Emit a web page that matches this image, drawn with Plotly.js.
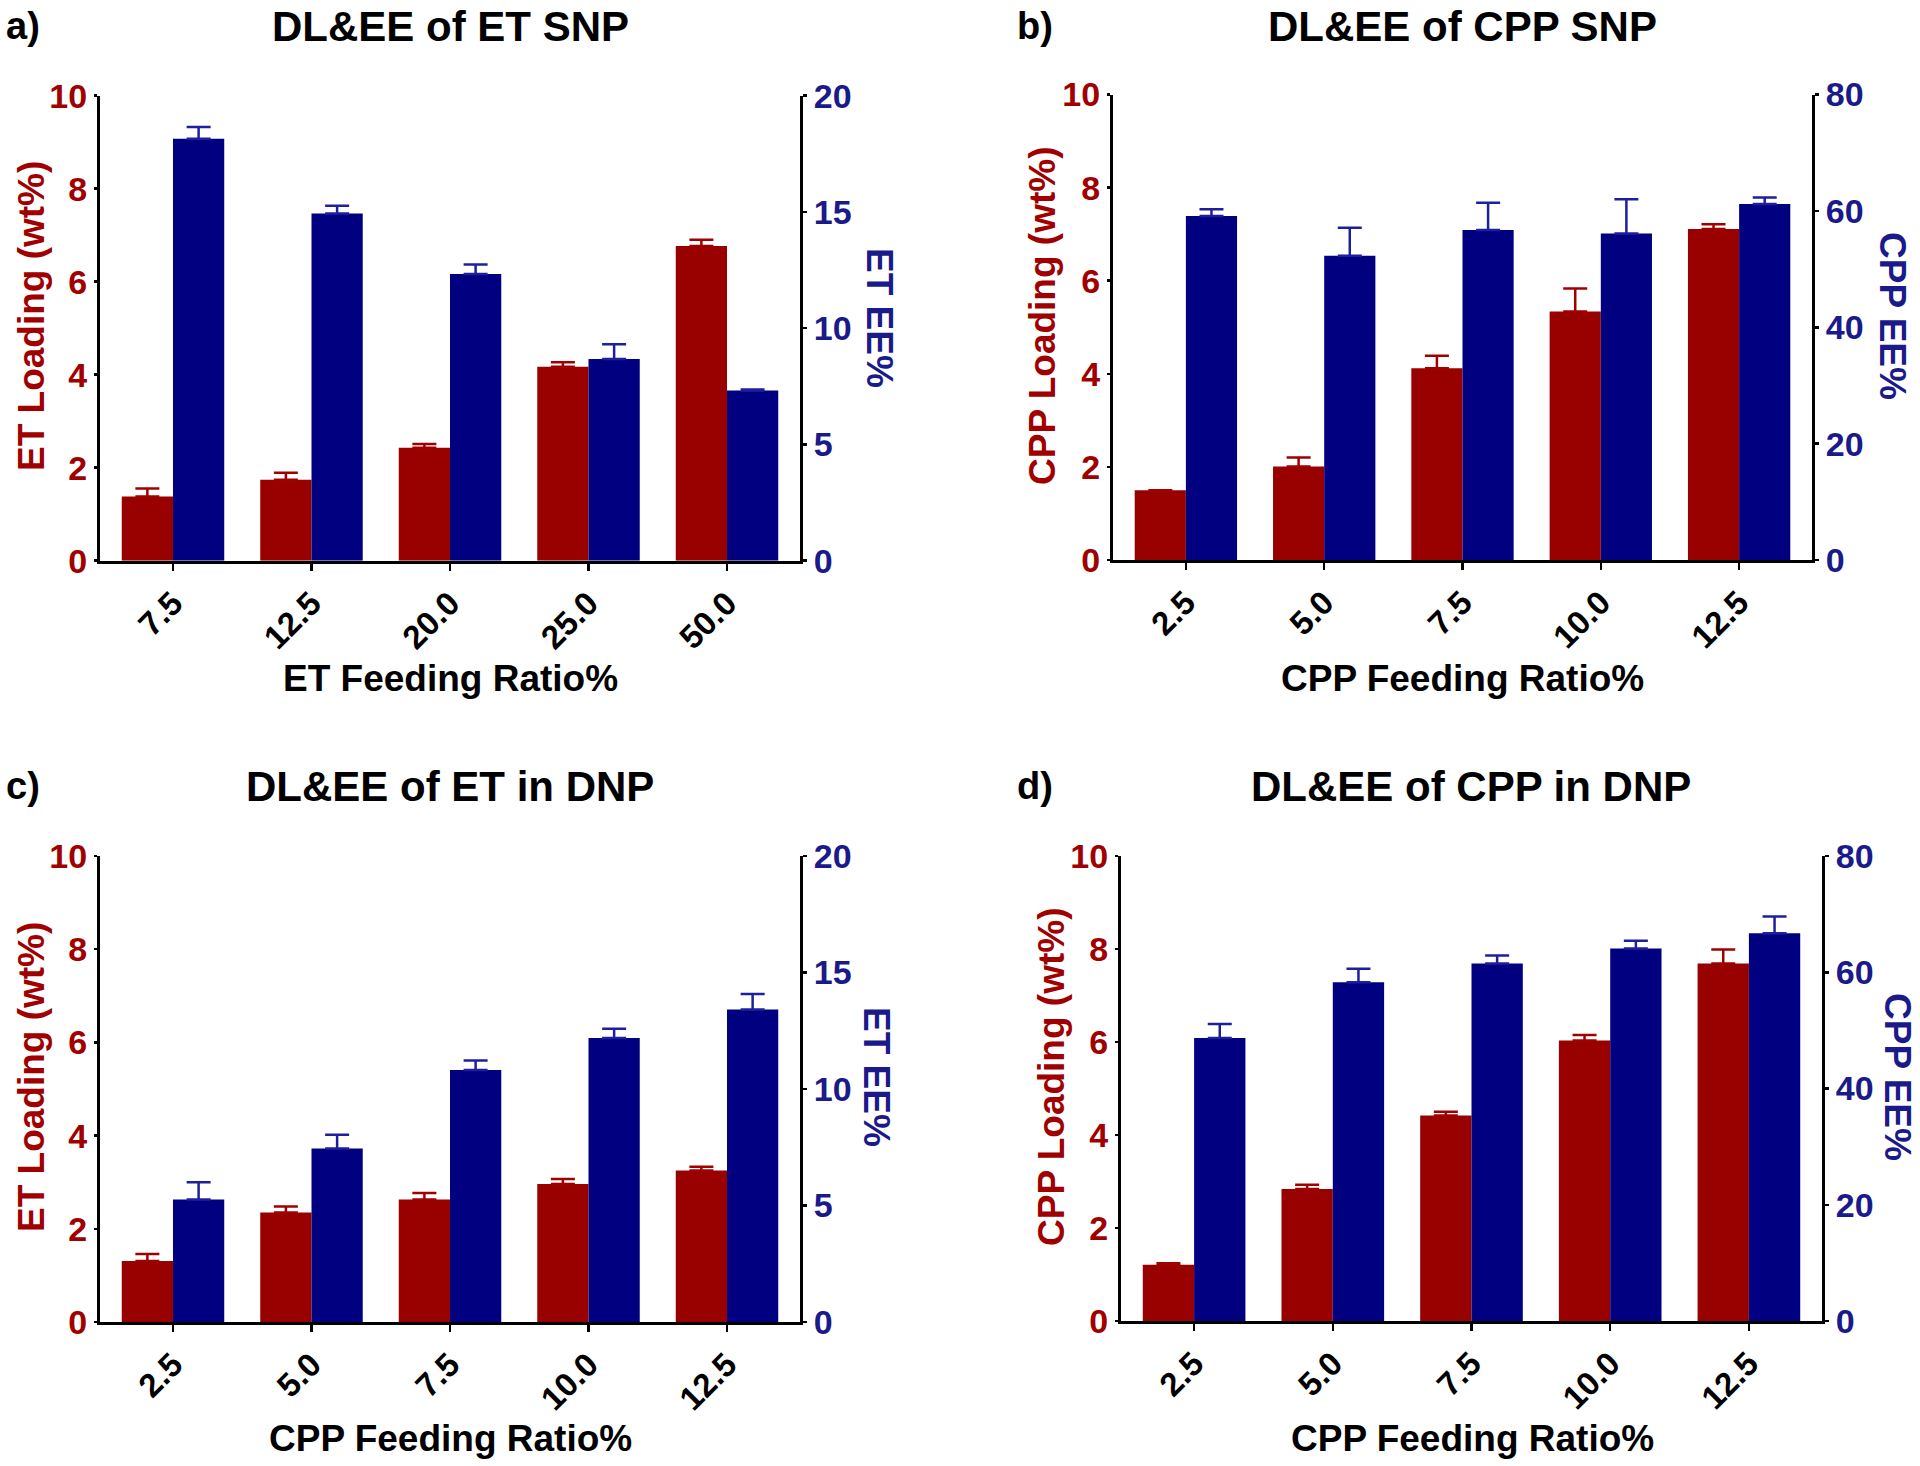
<!DOCTYPE html>
<html><head><meta charset="utf-8">
<script src="https://cdn.plot.ly/plotly-3.0.1.min.js"></script>
<style>html,body{margin:0;padding:0;background:#fff}</style>
</head><body>
<div id="chart" style="width:1920px;height:1466px"></div>
<script>
// ---------- data ----------
const catsA = ['7.5', '12.5', '20.0', '25.0', '50.0'];
const catsB = ['2.5', '5.0', '7.5', '10.0', '12.5'];
const catsC = ['2.5', '5.0', '7.5', '10.0', '12.5'];
const catsD = ['2.5', '5.0', '7.5', '10.0', '12.5'];

// a) DL&EE of ET SNP
const aLoading    = [1.38, 1.74, 2.43, 4.17, 6.77];
const aLoadingErr = [0.17, 0.15, 0.08, 0.10, 0.13];
const aEE         = [18.15, 14.93, 12.33, 8.68, 7.32];
const aEEErr      = [0.50, 0.34, 0.41, 0.63, 0.04];

// b) DL&EE of CPP SNP
const bLoading    = [1.50, 2.01, 4.12, 5.34, 7.11];
const bLoadingErr = [0.00, 0.19, 0.27, 0.49, 0.10];
const bEE         = [59.1, 52.3, 56.7, 56.1, 61.2];
const bEEErr      = [1.2, 4.8, 4.7, 5.9, 1.1];

// c) DL&EE of ET in DNP
const cLoading    = [1.31, 2.35, 2.63, 2.96, 3.25];
const cLoadingErr = [0.15, 0.13, 0.14, 0.11, 0.08];
const cEE         = [5.26, 7.45, 10.82, 12.19, 13.41];
const cEEErr      = [0.74, 0.59, 0.40, 0.40, 0.67];

// d) DL&EE of CPP in DNP
const dLoading    = [1.21, 2.84, 4.42, 6.03, 7.69];
const dLoadingErr = [0.03, 0.09, 0.08, 0.12, 0.30];
const dEE         = [48.7, 58.3, 61.5, 64.1, 66.7];
const dEEErr      = [2.4, 2.3, 1.4, 1.3, 2.9];

const panelTitles = ['DL&EE of ET SNP', 'DL&EE of CPP SNP', 'DL&EE of ET in DNP', 'DL&EE of CPP in DNP'];
const panelLetters = ['a)', 'b)', 'c)', 'd)'];
const xTitles = ['ET Feeding Ratio%', 'CPP Feeding Ratio%', 'CPP Feeding Ratio%', 'CPP Feeding Ratio%'];
const leftTitles = ['ET Loading (wt%)', 'CPP Loading (wt%)', 'ET Loading (wt%)', 'CPP Loading (wt%)'];
const rightTitles = ['ET EE%', 'CPP EE%', 'ET EE%', 'CPP EE%'];
const rightMax = [20, 80, 20, 80];

// ---------- styling / geometry ----------
const W = 1920, H = 1466;
const FONT = 'Liberation Sans, Arial, sans-serif';
const RED = '#990000', RED_T = '#A00000';
const BLUE = '#000080', BLUE_T = '#1a1a8a';

const geo = [
  {L: 100,  R: 800,  T: 95.7, B: 560.7, title: [450, 26],   letter: [23, 26],   xt: [450, 678],   lt: [31, 316],   rt: [880, 318]},
  {L: 1113, R: 1812, T: 94.5, B: 560,   title: [1462, 26],  letter: [1035, 26], xt: [1462, 678],  lt: [1042, 316], rt: [1893, 316]},
  {L: 100,  R: 800,  T: 856,  B: 1322,  title: [450, 786],  letter: [23, 786],  xt: [450, 1438],  lt: [31, 1077],  rt: [877, 1077]},
  {L: 1121, R: 1822, T: 856,  B: 1321,  title: [1471, 786], letter: [1035, 786],xt: [1472, 1438], lt: [1051, 1077], rt: [1898, 1077]}
];

const panels = [
  {cats: catsA, l: aLoading, le: aLoadingErr, r: aEE, re: aEEErr},
  {cats: catsB, l: bLoading, le: bLoadingErr, r: bEE, re: bEEErr},
  {cats: catsC, l: cLoading, le: cLoadingErr, r: cEE, re: cEEErr},
  {cats: catsD, l: dLoading, le: dLoadingErr, r: dEE, re: dEEErr}
];

const px = v => v / W;
const py = v => 1 - v / H;

const traces = [];
const layout = {
  width: W, height: H,
  margin: {l: 0, r: 0, t: 0, b: 0},
  paper_bgcolor: '#fff', plot_bgcolor: 'rgba(0,0,0,0)',
  showlegend: false,
  barmode: 'overlay',
  font: {family: FONT, weight: 700, color: '#000'},
  annotations: []
};

function ann(text, xy, size, color, angle) {
  layout.annotations.push({
    text: text, x: px(xy[0]), y: py(xy[1]), xref: 'paper', yref: 'paper',
    xanchor: 'center', yanchor: 'middle', showarrow: false, textangle: angle || 0,
    font: {family: FONT, size: size, color: color, weight: 700}
  });
}

panels.forEach((p, i) => {
  const g = geo[i];
  const xn = i + 1;
  const yl = 2 * i + 1, yr = 2 * i + 2;
  const xk = 'x' + (xn === 1 ? '' : xn);
  const ylk = 'y' + (yl === 1 ? '' : yl);
  const yrk = 'y' + yr;

  traces.push({
    type: 'bar', x: p.cats, y: p.l, xaxis: xk, yaxis: ylk,
    width: 0.37, offset: -0.37,
    marker: {color: RED, line: {width: 0}},
    error_y: {type: 'data', symmetric: false, array: p.le, arrayminus: p.le.map(() => 0),
              color: RED_T, thickness: 2.5, width: 12},
    hoverinfo: 'skip'
  });
  traces.push({
    type: 'bar', x: p.cats, y: p.r, xaxis: xk, yaxis: yrk,
    width: 0.37, offset: 0,
    marker: {color: BLUE, line: {width: 0}},
    error_y: {type: 'data', symmetric: false, array: p.re, arrayminus: p.re.map(() => 0),
              color: '#1f1f9e', thickness: 2.5, width: 12},
    hoverinfo: 'skip'
  });

  layout['xaxis' + (xn === 1 ? '' : xn)] = {
    domain: [px(g.L), px(g.R)], anchor: ylk, type: 'category',
    range: [-0.527, 4.527], showgrid: false, zeroline: false,
    showline: true, linecolor: '#000', linewidth: 3,
    ticks: 'outside', ticklen: 7, tickwidth: 2.5, tickcolor: '#000',
    tickangle: -45, tickfont: {family: FONT, size: 33, color: '#000', weight: 700},
    fixedrange: true
  };
  layout['yaxis' + (yl === 1 ? '' : yl)] = {
    domain: [py(g.B), py(g.T)], anchor: xk, range: [0, 10], dtick: 2, tick0: 0,
    showgrid: false, zeroline: false, showline: true, linecolor: '#000', linewidth: 3,
    ticks: 'outside', ticklen: 3, tickwidth: 2.5, tickcolor: '#000',
    tickfont: {family: FONT, size: 34, color: RED_T, weight: 700}, fixedrange: true
  };
  layout['yaxis' + yr] = {
    overlaying: ylk, side: 'right', anchor: xk, range: [0, rightMax[i]], dtick: rightMax[i] / 4, tick0: 0,
    showgrid: false, zeroline: false, showline: true, linecolor: '#000', linewidth: 3,
    ticks: 'outside', ticklen: 4, tickwidth: 2.5, tickcolor: '#000',
    tickfont: {family: FONT, size: 34, color: BLUE_T, weight: 700}, fixedrange: true
  };

  ann(panelTitles[i], g.title, 42, '#000', 0);
  ann(panelLetters[i], g.letter, 38, '#000', 0);
  ann(xTitles[i], g.xt, 37, '#000', 0);
  ann(leftTitles[i], g.lt, 37, RED_T, -90);
  ann(rightTitles[i], g.rt, 37, BLUE_T, 90);
});

Plotly.newPlot('chart', traces, layout, {staticPlot: true, displayModeBar: false});
</script>
</body></html>
